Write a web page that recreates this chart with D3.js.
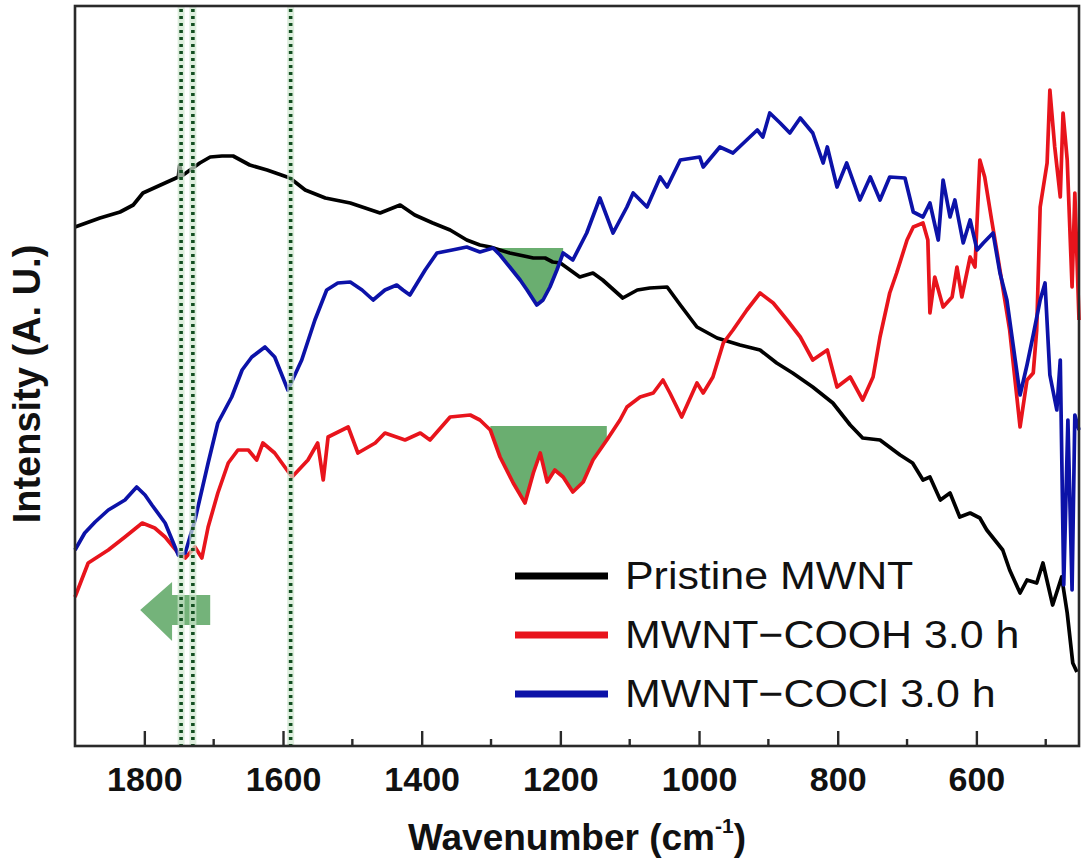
<!DOCTYPE html>
<html>
<head>
<meta charset="utf-8">
<script src="https://cdn.jsdelivr.net/npm/d3@7/dist/d3.min.js"></script>
<style>
  body { margin: 0; background: #fff; }
  svg text { font-family: "Liberation Sans", Arial, sans-serif; }
</style>
</head>
<body>
<div id="chart"></div>
<script>
// Data: [wavenumber (cm-1), intensity (a.u.)]
const pristine = [[1900,518],[1864,527],[1835,533],[1816,540],[1802,552],[1767,563],[1751,568],[1749,580],[1746,569],[1730,577],[1720,582],[1705,588],[1688,589],[1672,589],[1648,580],[1623,575],[1590,567],[1568,555],[1539,547],[1503,542],[1460,532],[1431,540],[1410,530],[1384,522],[1359,515],[1335,505],[1316,500],[1301,498],[1273,492],[1239,487],[1222,487],[1211,483],[1200,482],[1172,468],[1153,472],[1139,465],[1110,447],[1089,455],[1071,457],[1046,458],[1027,440],[1003,418],[974,407],[941,400],[912,395],[888,382],[865,372],[836,358],[807,342],[782,320],[764,307],[739,305],[710,290],[692,282],[677,265],[667,268],[652,245],[638,252],[624,228],[609,232],[595,227],[585,215],[570,202],[562,195],[552,175],[537,152],[527,165],[513,162],[504,182],[490,140],[477,168],[469,132],[461,82],[455,73]]

const cooh = [[1900,148],[1881,182],[1852,195],[1828,208],[1803,222],[1785,217],[1770,208],[1751,192],[1741,187],[1727,198],[1717,187],[1708,218],[1694,252],[1679,282],[1665,295],[1650,295],[1638,285],[1629,302],[1612,292],[1587,268],[1564,285],[1550,302],[1542,265],[1535,308],[1506,318],[1492,292],[1467,302],[1453,312],[1424,305],[1402,312],[1388,305],[1359,328],[1330,330],[1316,325],[1301,315],[1287,288],[1268,262],[1251,242],[1239,272],[1229,292],[1219,263],[1208,275],[1196,268],[1182,253],[1167,263],[1153,285],[1133,305],[1114,325],[1104,338],[1085,348],[1066,352],[1052,365],[1042,352],[1025,328],[1003,362],[994,352],[980,368],[965,402],[951,415],[931,435],[912,452],[893,442],[873,425],[854,408],[836,385],[815,395],[801,358],[782,368],[764,345],[749,368],[739,408],[725,452],[715,472],[700,505],[691,518],[677,522],[670,505],[667,432],[660,468],[648,438],[635,448],[628,478],[621,448],[609,488],[602,478],[595,585],[588,568],[578,525],[570,492],[559,445],[552,415],[537,318],[527,365],[518,372],[513,415],[508,538],[498,582],[494,655],[487,598],[479,548],[475,632],[469,585],[462,458],[458,552],[452,425]]

const cocl = [[1900,195],[1886,212],[1871,223],[1852,235],[1828,245],[1811,258],[1799,250],[1789,240],[1770,222],[1751,190],[1741,192],[1727,225],[1708,282],[1694,322],[1674,348],[1659,375],[1645,388],[1626,398],[1612,388],[1593,355],[1573,385],[1554,425],[1537,455],[1521,462],[1503,463],[1486,455],[1470,445],[1453,455],[1436,460],[1427,455],[1417,450],[1395,475],[1378,492],[1356,495],[1335,498],[1316,493],[1297,497],[1287,490],[1273,478],[1258,465],[1248,455],[1234,440],[1225,445],[1215,458],[1205,475],[1196,492],[1182,485],[1162,512],[1143,547],[1124,512],[1104,538],[1095,552],[1075,538],[1056,568],[1046,558],[1027,585],[999,588],[994,578],[970,598],[951,592],[916,615],[908,608],[898,632],[883,622],[869,612],[854,627],[836,612],[821,582],[815,598],[801,558],[787,582],[768,545],[753,568],[739,545],[725,568],[703,567],[691,533],[677,528],[667,542],[655,505],[648,565],[638,528],[631,545],[619,502],[609,525],[599,495],[590,502],[576,512],[566,472],[556,445],[547,400],[537,350],[527,380],[518,410],[508,445],[501,462],[494,370],[484,335],[479,385],[474,160],[468,325],[462,155],[458,330],[452,315]]

const seriesNames = ['Pristine MWNT', 'MWNT\u2212COOH 3.0 h', 'MWNT\u2212COCl 3.0 h']
const seriesColors = ['#000000', '#e8141c', '#0c12a8']

const majorTicks = [1800, 1600, 1400, 1200, 1000, 800, 600]
const minorTicks = [1700, 1500, 1300, 1100, 900, 700, 500]

// annotations
const markerWaves = [1747, 1730, 1589]
const blueBand = [1297, 1192], blueBase = 497
const redBand = [1301, 1129], redBase = 319
const arrowShape = [[1806,135],[1760,163],[1760,150],[1705,150],[1705,120],[1760,120],[1760,104]]

function draw(el) {
  const dimensions = { width: 1082, height: 862, left: 75, right: 1079, top: 6, bottom: 746 }

  const svg = d3.select(el)
    .append('svg')
    .attr('width', dimensions.width)
    .attr('height', dimensions.height)

  // scales
  const x = d3.scaleLinear()
    .domain([1900, 452])
    .range([dimensions.left, dimensions.right])

  const y = d3.scaleLinear()
    .domain([0, 740])
    .range([dimensions.bottom - 1, dimensions.top - 1])

  const line = d3.line()
    .x(d => x(d[0]))
    .y(d => y(d[1]))

  // shaded absorption bands
  const band = (data, range) => data.filter(d => d[0] <= range[0] && d[0] >= range[1])
  const bandArea = base => d3.area()
    .x(d => x(d[0]))
    .y0(y(base))
    .y1(d => y(Math.min(d[1], base)))

  svg.append('path')
    .attr('d', bandArea(blueBase)(band(cocl, blueBand)))
    .attr('fill', '#6aae70')

  svg.append('path')
    .attr('d', bandArea(redBase)(band(cooh, redBand)))
    .attr('fill', '#6aae70')

  // arrow
  svg.append('path')
    .attr('d', line(arrowShape) + 'Z')
    .attr('fill', '#74b37a')

  // spectra
  const series = [pristine, cooh, cocl]
  svg.append('g')
    .selectAll('path')
    .data(series)
    .join('path')
    .attr('d', d => line(d))
    .attr('fill', 'none')
    .attr('stroke', (d, i) => seriesColors[i])
    .attr('stroke-width', 3.7)
    .attr('stroke-linejoin', 'round')

  // dotted marker lines
  const markers = svg.append('g')
  markers.selectAll('line.halo')
    .data(markerWaves)
    .join('line')
    .attr('class', 'halo')
    .attr('x1', d => x(d)).attr('x2', d => x(d))
    .attr('y1', dimensions.top).attr('y2', dimensions.bottom)
    .attr('stroke', '#cfe7cf')
    .attr('stroke-width', 7)
    .attr('stroke-opacity', 0.7)

  markers.selectAll('line.dots')
    .data(markerWaves)
    .join('line')
    .attr('class', 'dots')
    .attr('x1', d => x(d)).attr('x2', d => x(d))
    .attr('y1', dimensions.top + 3).attr('y2', dimensions.bottom)
    .attr('stroke', '#134f21')
    .attr('stroke-width', 3.6)
    .attr('stroke-dasharray', '3,4')

  // frame
  svg.append('rect')
    .attr('x', dimensions.left)
    .attr('y', dimensions.top)
    .attr('width', dimensions.right - dimensions.left)
    .attr('height', dimensions.bottom - dimensions.top)
    .attr('fill', 'none')
    .attr('stroke', '#2a2a2a')
    .attr('stroke-width', 2.6)

  // x axis
  const xAxis = d3.axisBottom(x)
    .tickValues(majorTicks)
    .tickSize(-15)
    .tickSizeOuter(0)
    .tickPadding(21)
    .tickFormat(d3.format('d'))

  const gx = svg.append('g')
    .attr('transform', `translate(0, ${dimensions.bottom})`)
    .call(xAxis)
  gx.select('.domain').remove()
  gx.selectAll('.tick line').attr('stroke', '#2a2a2a').attr('stroke-width', 2.4)
  gx.selectAll('.tick text')
    .attr('fill', '#111')
    .style('font-size', '34px')
    .style('font-weight', 'bold')
    .style('font-family', '"Liberation Sans", Arial, sans-serif')

  svg.append('g')
    .selectAll('line')
    .data(minorTicks.filter(d => x(d) < dimensions.right))
    .join('line')
    .attr('x1', d => x(d)).attr('x2', d => x(d))
    .attr('y1', dimensions.bottom).attr('y2', dimensions.bottom - 7)
    .attr('stroke', '#2a2a2a')
    .attr('stroke-width', 2.4)

  // titles
  const xTitle = svg.append('text')
    .attr('x', 577)
    .attr('y', 850)
    .attr('text-anchor', 'middle')
    .style('font-size', '37px')
    .style('font-weight', 'bold')
    .attr('fill', '#111')
  xTitle.append('tspan').text('Wavenumber (cm')
  xTitle.append('tspan').text('-1').attr('dy', -17).style('font-size', '21px')
  xTitle.append('tspan').text(')').attr('dy', 17)

  svg.append('text')
    .attr('transform', 'translate(40, 384) rotate(-90)')
    .attr('text-anchor', 'middle')
    .style('font-size', '38px')
    .style('font-weight', 'bold')
    .attr('fill', '#111')
    .text('Intensity (A. U.)')

  // legend
  const legend = svg.append('g')
  const rows = legend.selectAll('g')
    .data(seriesNames)
    .join('g')
    .attr('transform', (d, i) => `translate(515, ${576 + i * 59})`)

  rows.append('line')
    .attr('x1', 0).attr('x2', 93)
    .attr('stroke', (d, i) => seriesColors[i])
    .attr('stroke-width', 7)

  rows.append('text')
    .attr('transform', 'translate(110, 13) scale(1.1, 1)')
    .style('font-size', '39px')
    .attr('fill', '#111')
    .text(d => d)
}

draw('#chart')
</script>
</body>
</html>
